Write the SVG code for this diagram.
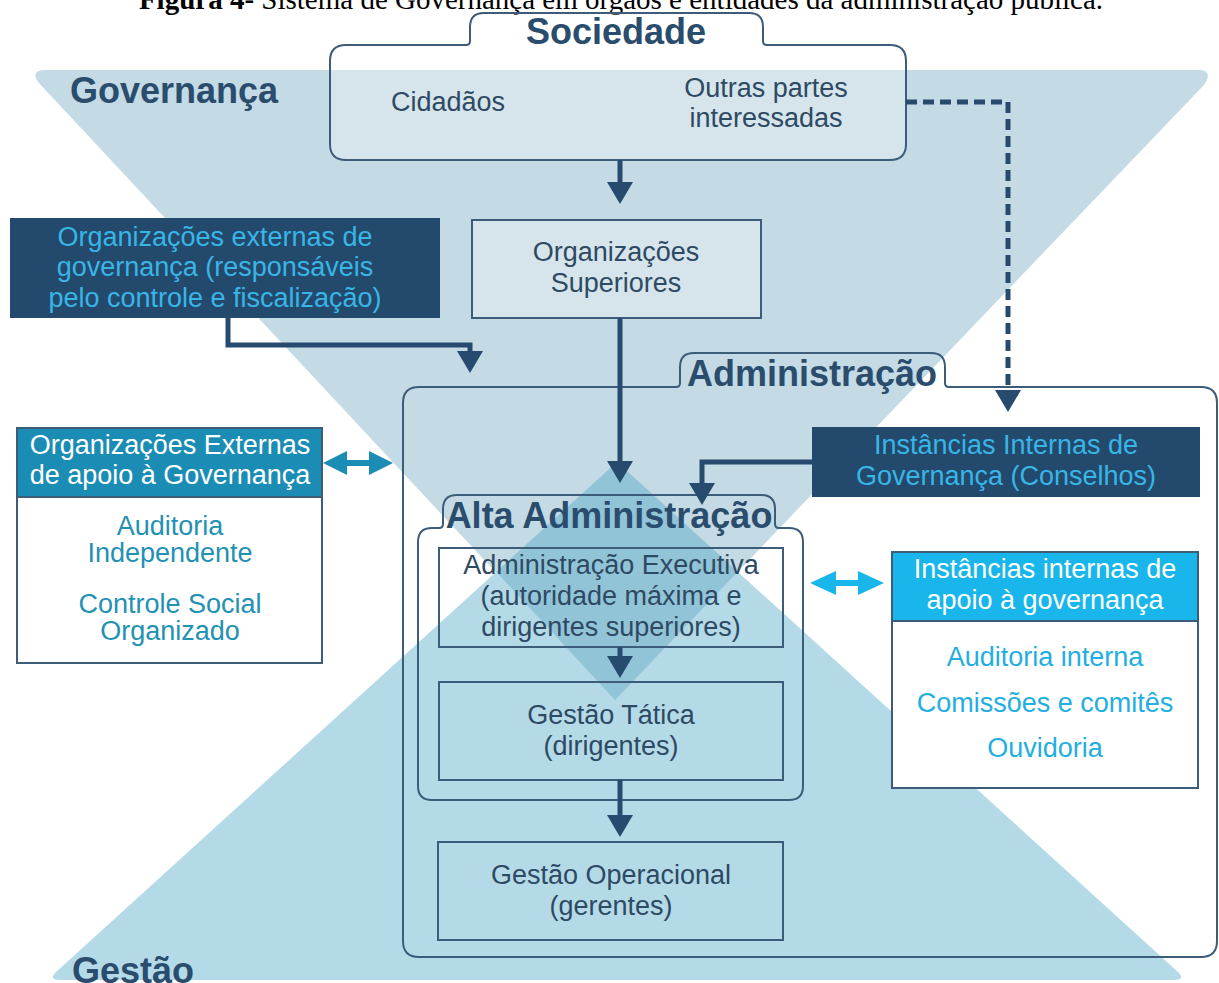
<svg xmlns="http://www.w3.org/2000/svg" width="1219" height="983" viewBox="0 0 1219 983">
<defs>
<style>
text{font-family:"Liberation Sans",Arial,sans-serif}
.cap{font-family:"Liberation Serif","Times New Roman",serif;font-size:29px;fill:#000}
.title{font-weight:bold;font-size:36px;fill:#2a4c6d}
.tl{font-weight:bold;font-size:36px;fill:#2a4c6d;text-anchor:middle}
.t{font-size:27px;fill:#2e4a63;text-anchor:middle}
.tc{font-size:27px;fill:#39b5e6;text-anchor:middle}
.tw{font-size:27px;fill:#ffffff;text-anchor:middle}
.tt{font-size:27px;fill:#2291b3;text-anchor:middle}
.tb{font-size:27px;fill:#22aee0;text-anchor:middle}
.box{fill:none;stroke:#3d5c7a;stroke-width:2}
.lbox{fill:#ffffff;fill-opacity:0.3;stroke:#3d5c7a;stroke-width:2}
.navy{fill:#234a6c}
.ln{fill:none;stroke:#264b6e;stroke-width:5;stroke-linejoin:miter}
</style>
<marker id="ah" viewBox="0 0 22 26" refX="0" refY="13" markerWidth="22" markerHeight="26" markerUnits="userSpaceOnUse" orient="auto">
<path d="M0,0 L22,13 L0,26 Z" fill="#264b6e"/>
</marker>
</defs>
<rect width="1219" height="983" fill="#ffffff"/>
<text class="cap" x="621" y="9" text-anchor="middle"><tspan font-weight="bold">Figura 4-</tspan> Sistema de Governança em órgãos e entidades da administração pública.</text>

<g id="background">
<path id="gov-region" d="M38,82 Q30,70 46,70 L1198,70 Q1214,70 1204,85 L615,700 Z" fill="#c4dae4"/>
<path id="gestao-region" d="M617,462 L1178,972 Q1186,980 1174,980 L60,980 Q48,980 56,972 Z" fill="#b4dae8"/>
<path id="overlap" d="M617,462 L737.8,571.8 L615,700 L496.2,571.8 Z" fill="#92c4d7"/>
<text class="title" x="70" y="103">Governança</text>
<text class="title" x="72" y="983">Gestão</text>
</g>

<g id="sociedade">
<path class="lbox" d="M346,45 H466 Q470,45 470,41 V27 Q470,13 484,13 H749 Q763,13 763,27 V41 Q763,45 767,45 H890 Q906,45 906,61 V144 Q906,160 890,160 H346 Q330,160 330,144 V61 Q330,45 346,45 Z"/>
<text class="tl" x="616" y="44">Sociedade</text>
<text class="t" x="448" y="111">Cidadãos</text>
<text class="t" x="766" y="97">Outras partes</text>
<text class="t" x="766" y="127">interessadas</text>
</g>

<g id="org-superiores">
<rect class="lbox" x="472" y="220" width="289" height="98"/>
<text class="t" x="616" y="261">Organizações</text>
<text class="t" x="616" y="292">Superiores</text>
</g>

<g id="org-externas-gov">
<rect class="navy" x="10" y="218" width="430" height="100"/>
<text class="tc" x="215" y="246">Organizações externas de</text>
<text class="tc" x="215" y="276">governança (responsáveis</text>
<text class="tc" x="215" y="307">pelo controle e fiscalização)</text>
</g>

<g id="administracao">
<path class="box" d="M419,387 H676 Q680,387 680,383 V367 Q680,353 694,353 H931 Q945,353 945,367 V383 Q945,387 949,387 H1201 Q1217,387 1217,403 V941 Q1217,957 1201,957 H419 Q403,957 403,941 V403 Q403,387 419,387 Z"/>
<text class="tl" x="812" y="386">Administração</text>
</g>

<g id="instancias-internas-gov">
<rect class="navy" x="812" y="427" width="388" height="70"/>
<text class="tc" x="1006" y="454">Instâncias Internas de</text>
<text class="tc" x="1006" y="485">Governança (Conselhos)</text>
</g>

<g id="alta-administracao">
<path class="box" d="M432,528 H439 Q443,528 443,524 V509 Q443,495 457,495 H761 Q775,495 775,509 V524 Q775,528 779,528 H789 Q803,528 803,542 V786 Q803,800 789,800 H432 Q418,800 418,786 V542 Q418,528 432,528 Z"/>
<text class="tl" x="609" y="528">Alta Administração</text>
</g>

<g id="adm-executiva">
<rect class="box" x="439" y="548" width="344" height="99"/>
<text class="t" x="611" y="574">Administração Executiva</text>
<text class="t" x="611" y="605">(autoridade máxima e</text>
<text class="t" x="611" y="636">dirigentes superiores)</text>
</g>

<g id="gestao-tatica">
<rect class="box" x="439" y="682" width="344" height="98"/>
<text class="t" x="611" y="724">Gestão Tática</text>
<text class="t" x="611" y="755">(dirigentes)</text>
</g>

<g id="gestao-operacional">
<rect class="box" x="438" y="842" width="345" height="98"/>
<text class="t" x="611" y="884">Gestão Operacional</text>
<text class="t" x="611" y="915">(gerentes)</text>
</g>

<g id="org-externas-apoio">
<rect x="17" y="428" width="305" height="235" fill="#ffffff" stroke="#3d5c7a" stroke-width="2"/>
<rect x="17" y="428" width="305" height="69" fill="#1b8db5" stroke="#3d5c7a" stroke-width="2"/>
<text class="tw" x="170" y="454">Organizações Externas</text>
<text class="tw" x="170" y="484">de apoio à Governança</text>
<text class="tt" x="170" y="535">Auditoria</text>
<text class="tt" x="170" y="562">Independente</text>
<text class="tt" x="170" y="613">Controle Social</text>
<text class="tt" x="170" y="640">Organizado</text>
</g>

<g id="instancias-internas-apoio">
<rect x="892" y="552" width="306" height="236" fill="#ffffff" stroke="#3d5c7a" stroke-width="2"/>
<rect x="892" y="552" width="306" height="69" fill="#18b6ea" stroke="#3d5c7a" stroke-width="2"/>
<text class="tw" x="1045" y="578">Instâncias internas de</text>
<text class="tw" x="1045" y="609">apoio à governança</text>
<text class="tb" x="1045" y="666">Auditoria interna</text>
<text class="tb" x="1045" y="712">Comissões e comitês</text>
<text class="tb" x="1045" y="757">Ouvidoria</text>
</g>

<g id="connectors">
<path class="ln" d="M620,160 V182" marker-end="url(#ah)"/>
<path class="ln" d="M620,318 V461" marker-end="url(#ah)"/>
<path class="ln" d="M228,318 V345 H470 V351" marker-end="url(#ah)"/>
<path class="ln" d="M906,102 H1008 V390" stroke-dasharray="11,6" marker-end="url(#ah)"/>
<path class="ln" d="M812,462 H702 V483" marker-end="url(#ah)"/>
<path class="ln" d="M620,647 V656" marker-end="url(#ah)"/>
<path class="ln" d="M620,780 V815" marker-end="url(#ah)"/>
<g id="double-arrow-left" fill="#1b8db5">
<rect x="345" y="460" width="26" height="6"/>
<polygon points="323,463 347,451 347,475"/>
<polygon points="393,463 369,451 369,475"/>
</g>
<g id="double-arrow-right" fill="#18b6ea">
<rect x="834" y="580" width="26" height="6"/>
<polygon points="810,583 836,571 836,595"/>
<polygon points="884,583 858,571 858,595"/>
</g>
</g>
</svg>
